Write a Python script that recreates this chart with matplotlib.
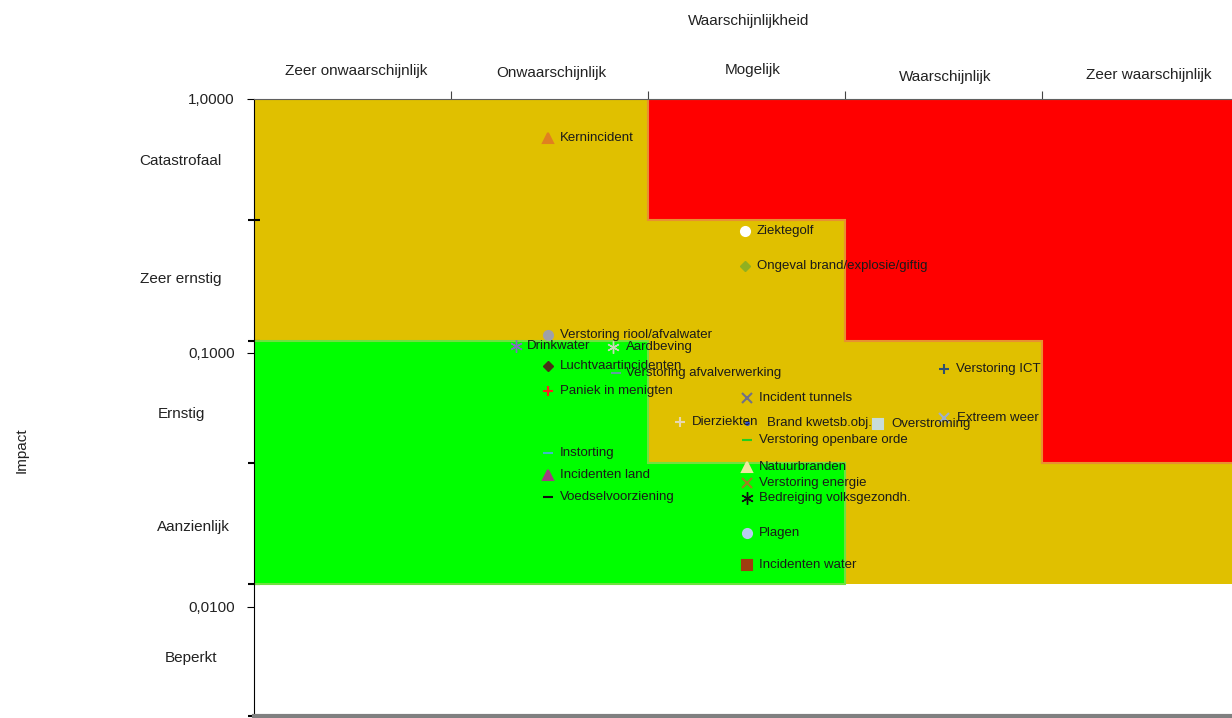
import matplotlib
matplotlib.use("Agg")
import matplotlib.pyplot as plt
from matplotlib.patches import Polygon

plt.rcParams['font.family'] = ['Liberation Sans', 'DejaVu Sans']

# Kansklassen (x) en impactklassen (y)
waarschijnlijkheid = ["Zeer onwaarschijnlijk", "Onwaarschijnlijk", "Mogelijk",
                      "Waarschijnlijk", "Zeer waarschijnlijk"]
impact_klassen = ["Catastrofaal", "Zeer ernstig", "Ernstig", "Aanzienlijk", "Beperkt"]
impact_grenzen = [1.0, 1 / 3, 1 / 9, 1 / 27, 1 / 81]
impact_ticks = [1.0, 0.1, 0.01]
impact_ticklabels = ["1,0000", "0,1000", "0,0100"]

# Scenario's: naam, waarschijnlijkheid, impact
scenarios = ["Kernincident", "Ziektegolf", "Ongeval brand/explosie/giftig",
             "Verstoring riool/afvalwater", "Drinkwater", "Aardbeving",
             "Luchtvaartincidenten", "Verstoring afvalverwerking", "Paniek in menigten",
             "Incident tunnels", "Dierziekten", "Brand kwetsb.obj.", "Overstroming",
             "Verstoring openbare orde", "Verstoring ICT", "Extreem weer",
             "Natuurbranden", "Verstoring energie", "Bedreiging volksgezondh.",
             "Plagen", "Incidenten water", "Instorting", "Incidenten land",
             "Voedselvoorziening"]
kans = [1.49, 2.49, 2.49, 1.49, 1.33, 1.82, 1.49, 1.84, 1.49, 2.50, 2.16, 2.50,
        3.17, 2.50, 3.50, 3.50, 2.50, 2.50, 2.50, 2.50, 2.50, 1.49, 1.49, 1.49]
impact = [0.702, 0.302, 0.220, 0.1177, 0.1066, 0.1055, 0.0889, 0.0834, 0.0709,
          0.0665, 0.0536, 0.0531, 0.0525, 0.0454, 0.0862, 0.0553, 0.0357,
          0.0307, 0.0269, 0.0196, 0.0146, 0.0405, 0.0331, 0.0271]

star = (6, 2, 0)
markers = ['^', 'o', 'D', 'o', star, star, 'D', '_', '+', 'x', '+', '.', 's',
           '_', '+', 'x', '^', 'x', star, 'o', 's', '_', '^', '_']
kleuren = ['#E08020', '#FFFFFF', '#90B020', '#A0A0A8', '#8070C0', '#C8D8B8',
           '#4A3018', '#60A0A0', '#FF2020', '#707088', '#E8D8B0', '#3050D0',
           '#C8DCD8', '#20D020', '#305070', '#A0B0C8', '#F0E8A0', '#A08020',
           '#101010', '#B8CCF0', '#A03C10', '#40B8C8', '#A04080', '#101010']
offsets = [9, 9, 9, 9, 8, 10, 9, 7, 9, 9, 9, 15, 9, 9, 9, 10, 9, 9, 9, 9, 9, 9, 9, 9]

fig = plt.figure(figsize=(12.32, 7.18), dpi=100)
ax = fig.add_axes([254 / 1232, 1 - 716 / 718, 985 / 1232, 617 / 718])
ax.set_yscale('log')
ax.set_xlim(0, 5)
ax.set_ylim(0.00372, 1.0)

# risicozones
g = impact_grenzen
ax.add_patch(Polygon([(0, g[4]), (5, g[4]), (5, g[0]), (0, g[0])],
                     closed=True, facecolor='#E0C000', edgecolor='none', zorder=1))
ax.add_patch(Polygon([(2, g[0]), (2, g[1]), (3, g[1]), (3, g[2]), (4, g[2]),
                      (4, g[3]), (5, g[3]), (5, g[0])],
                     closed=True, facecolor='#FF0000', edgecolor='#E89030',
                     linewidth=1.5, zorder=2))
ax.add_patch(Polygon([(0, g[2]), (2, g[2]), (2, g[3]), (3, g[3]), (3, g[4]), (0, g[4])],
                     closed=True, facecolor='#00FF00', edgecolor='#70E040',
                     linewidth=1.5, zorder=2))

for x, y, naam, m, c, off in zip(kans, impact, scenarios, markers, kleuren, offsets):
    if m == '.':
        size, mew = 5, 1.0
    elif m == star:
        size, mew = 9, 1.0
    elif m == 'D':
        size, mew = 5, 1.0
    else:
        size, mew = 6.5, 1.5
    ax.plot(x, y, marker=m, color=c, markersize=size, markeredgewidth=mew,
            linestyle='none', zorder=4)
    ax.annotate(naam, (x, y), xytext=(off, 0), textcoords='offset points',
                ha='left', va='center', fontsize=9.5, color='#1a1a1a', zorder=5)

# assen
ax.set_yticks(impact_ticks)
ax.set_yticklabels(impact_ticklabels, fontsize=11, color='#222222')
ax.set_yticks(impact_grenzen[1:] + [0.00372], minor=True)
ax.set_yticklabels([], minor=True)
ax.tick_params(axis='y', which='major', direction='out', length=5, pad=9)
ax.tick_params(axis='y', which='minor', direction='inout', length=8, width=1.5)

ax.xaxis.tick_top()
ax.set_xticks([1, 2, 3, 4])
ax.set_xticklabels([])
ax.tick_params(axis='x', which='both', direction='out', length=6, color='#444444')
ax.xaxis.set_minor_locator(matplotlib.ticker.NullLocator())

ax.spines['right'].set_visible(False)
ax.spines['left'].set_color('black')
ax.spines['top'].set_color('#606060')
ax.spines['bottom'].set_color('#808080')
ax.spines['bottom'].set_linewidth(3)

# kolomlabels boven (positie in pixels boven de as)
label_x = [0.52, 1.51, 2.53, 3.51, 4.54]
label_y = [71, 73, 70, 77, 75]
for lx, ly, t in zip(label_x, label_y, waarschijnlijkheid):
    ax.text(lx, (716 - ly) / 617, t, transform=ax.get_xaxis_transform(),
            ha='center', va='center', fontsize=11, color='#222222')

# rijlabels links
rij_x = [180, 181, 181, 193, 191]
rij_y = [161, 279, 414, 527, 658]
for rx, ry, t in zip(rij_x, rij_y, impact_klassen):
    fig.text(rx / 1232, 1 - ry / 718, t, ha='center', va='center',
             fontsize=11, color='#222222')

fig.text(749 / 1232, 1 - 21 / 718, "Waarschijnlijkheid", ha='center', va='center',
         fontsize=11, color='#222222')
fig.text(22 / 1232, 1 - 450 / 718, "Impact", ha='center', va='center',
         rotation=90, fontsize=11, color='#222222')

fig.savefig("out.png", dpi=100)
